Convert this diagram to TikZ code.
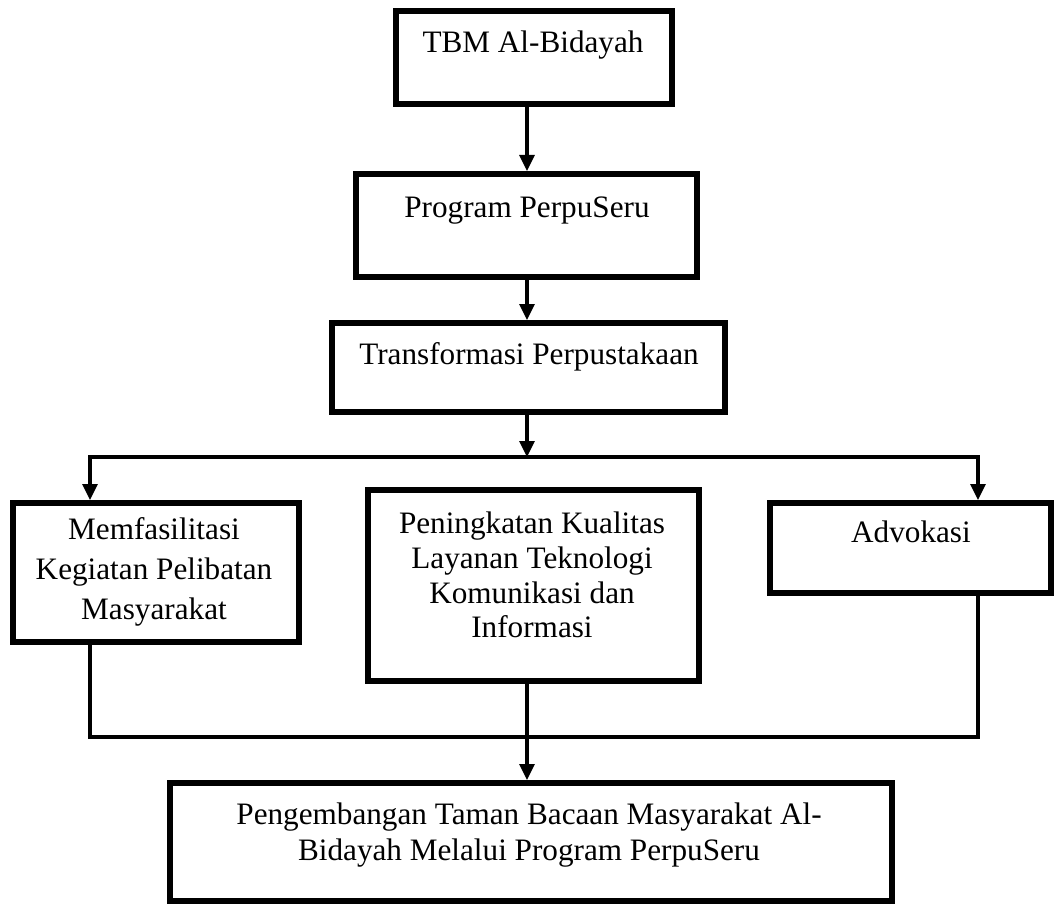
\documentclass[tikz,border=0pt]{standalone}
\usepackage{fontspec}
\setmainfont{Liberation Serif}
\usetikzlibrary{arrows.meta}
\begin{document}
\begin{tikzpicture}[x=1pt,y=-1pt,
  box/.style={draw, line width=6pt, inner sep=0pt},
  lbl/.style={anchor=north, inner sep=0pt, align=center, font=\fontsize{31.2}{35}\selectfont},
  conn/.style={line width=3.2pt},
  arr/.style={conn, -{Triangle[width=15pt,length=16pt]}}]
\useasboundingbox (0,0) rectangle (1054,904);

% boxes
\node[box, minimum width=276pt, minimum height=93pt]  (b1) at (534,57.5) {};
\node[box, minimum width=341pt, minimum height=103pt] (b2) at (526.5,225.5) {};
\node[box, minimum width=393pt, minimum height=89pt]  (b3) at (528.5,367.5) {};
\node[box, minimum width=286pt, minimum height=139pt] (b4) at (156,572.5) {};
\node[box, minimum width=331pt, minimum height=191pt] (b5) at (533.5,585.5) {};
\node[box, minimum width=281pt, minimum height=90pt]  (b6) at (910.5,548) {};
\node[box, minimum width=722pt, minimum height=118pt] (b7) at (531,842) {};

% texts
\node[lbl] (t1) at (533,31) {TBM Al-Bidayah};
\node[lbl] (t2) at (527,197) {Program PerpuSeru};
\node[lbl] (t3) at (529,342) {Transformasi Perpustakaan};
\node[lbl, font=\fontsize{31.2}{40}\selectfont] (t4) at (154,517) {Memfasilitasi\\Kegiatan Pelibatan\\Masyarakat};
\node[lbl, font=\fontsize{31.2}{34.7}\selectfont] (t5) at (532,512) {Peningkatan Kualitas\\Layanan Teknologi\\Komunikasi dan\\Informasi};
\node[lbl] (t6) at (911,521) {Advokasi};
\node[lbl, font=\fontsize{31.2}{36}\selectfont] (t7) at (529,803) {Pengembangan Taman Bacaan Masyarakat Al-\\Bidayah Melalui Program PerpuSeru};

% junctions
\coordinate (jt) at (527,457);
\coordinate (jl) at (90,457);
\coordinate (jr) at (978,457);
\coordinate (bl) at (90,737);
\coordinate (br) at (978,737);

% connectors
\draw[arr] (b1.south -| jt) -- (b2.north -| jt);
\draw[arr] (b2.south -| jt) -- (b3.north -| jt);
\draw[arr] (b3.south -| jt) -- (jt);
\draw[arr] (jr) -- (jl) -- (b4.north -| jl);
\draw[arr] (jl) -- (jr) -- (b6.north -| jr);
\draw[conn] (b4.south -| bl) -- (bl) -- (br) -- (b6.south -| br);
\draw[arr] (b5.south -| jt) -- (b7.north -| jt);
\end{tikzpicture}
\end{document}
